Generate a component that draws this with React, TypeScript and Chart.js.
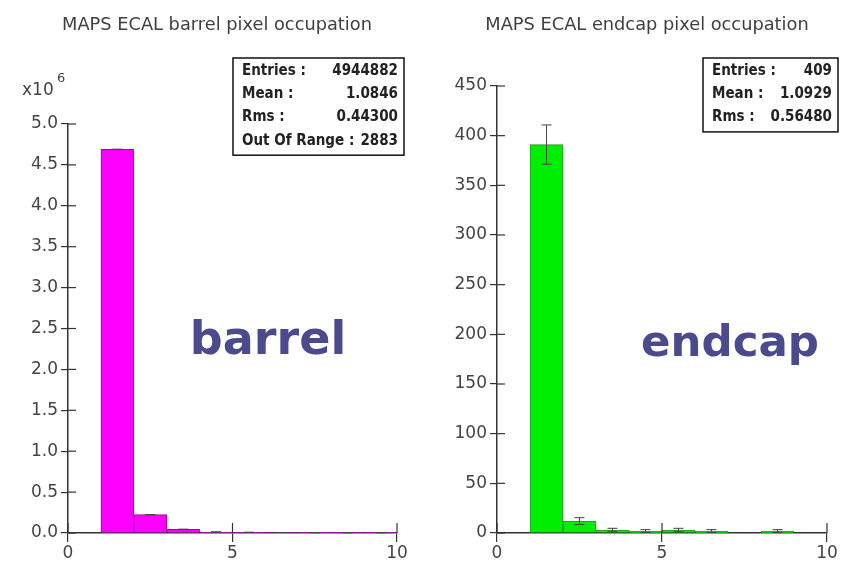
import React, { useEffect, useRef } from 'react';
import { Chart, registerables } from 'chart.js';
Chart.register(...registerables);

// ---- data ----
const barrelBinCenters = [1.5, 2.5, 3.5, 4.5, 5.5, 6.5, 7.5, 8.5, 9.5];
const barrelCounts = [4690000, 225000, 45000, 12000, 8000, 6000, 5000, 4000, 4000];
const barrelTitle = 'MAPS ECAL barrel pixel occupation';
const barrelLabel = 'barrel';
const barrelStatLabels = ['Entries :', 'Mean :', 'Rms :', 'Out Of Range :'];
const barrelStatValues = ['4944882', '1.0846', '0.44300', '2883'];
const barrelYMax = 5000000;
const barrelYStep = 500000;

const endcapBinCenters = [1.5, 2.5, 3.5, 4.5, 5.5, 6.5, 7.5, 8.5, 9.5];
const endcapCounts = [391, 12, 3, 2, 3, 2, 0, 2, 0];
const endcapTitle = 'MAPS ECAL endcap pixel occupation';
const endcapLabel = 'endcap';
const endcapStatLabels = ['Entries :', 'Mean :', 'Rms :'];
const endcapStatValues = ['409', '1.0929', '0.56480'];
const endcapYMax = 450;
const endcapYStep = 50;

const xMin = 0;
const xMax = 10;
const xStep = 5;

type PanelProps = {
  centers: number[];
  counts: number[];
  title: string;
  titleX: number;
  label: string;
  statLabels: string[];
  statValues: string[];
  yMax: number;
  yStep: number;
  yFormat: (v: number) => string;
  fill: string;
  border: string;
  yAxisWidth: number;
  chartTop: number;
  rightPad: number;
  statBox: { dx: number; top: number; w: number; rowH: number };
  labelPos: { x: number; y: number; size: number };
  exponent: boolean;
  errorBars: boolean;
};

const TEXT = '#444';
const AXIS = '#333';
const W = 424;
const H = 566;
const TITLE_SIZE = 17.8;

function Panel(p: PanelProps) {
  const ref = useRef<HTMLCanvasElement>(null);
  useEffect(() => {
    const canvas = ref.current!;
    const overlay = {
      id: 'overlay',
      afterDatasetsDraw(chart: any) {
        const ctx = chart.ctx;
        const xs = chart.scales.x;
        const ys = chart.scales.y;
        if (p.errorBars) {
          ctx.save();
          ctx.strokeStyle = '#444';
          ctx.lineWidth = 1;
          p.counts.forEach((c, i) => {
            if (c <= 0) return;
            const e = Math.sqrt(c);
            const x = xs.getPixelForValue(p.centers[i]);
            const y1 = ys.getPixelForValue(c - e);
            const y2 = ys.getPixelForValue(c + e);
            ctx.beginPath();
            ctx.moveTo(x, y1);
            ctx.lineTo(x, y2);
            ctx.moveTo(x - 5, y1);
            ctx.lineTo(x + 5, y1);
            ctx.moveTo(x - 5, y2);
            ctx.lineTo(x + 5, y2);
            ctx.stroke();
          });
          ctx.restore();
        }
      },
      afterDraw(chart: any) {
        const ctx = chart.ctx;
        const area = chart.chartArea;
        const xs = chart.scales.x;
        const ys = chart.scales.y;
        ctx.save();
        // title
        ctx.fillStyle = '#404040';
        ctx.font = `${TITLE_SIZE}px "DejaVu Sans", sans-serif`;
        ctx.textAlign = 'center';
        ctx.textBaseline = 'middle';
        ctx.fillText(p.title, p.titleX, 25);
        // inner tick marks
        ctx.strokeStyle = AXIS;
        ctx.lineWidth = 1.2;
        ys.ticks.forEach((t: any) => {
          const y = ys.getPixelForValue(t.value);
          ctx.beginPath();
          ctx.moveTo(area.left, y);
          ctx.lineTo(area.left + 8, y);
          ctx.stroke();
        });
        xs.ticks.forEach((t: any) => {
          const x = xs.getPixelForValue(t.value);
          ctx.beginPath();
          ctx.moveTo(x, area.bottom);
          ctx.lineTo(x, area.bottom - 10);
          ctx.stroke();
        });
        // exponent
        if (p.exponent) {
          ctx.fillStyle = TEXT;
          ctx.font = '17px "DejaVu Sans", sans-serif';
          ctx.textAlign = 'left';
          ctx.textBaseline = 'middle';
          ctx.fillText('x10', 22, 91);
          ctx.font = '13px "DejaVu Sans", sans-serif';
          ctx.fillText('6', 57, 79);
        }
        // stats box
        const sb = p.statBox;
        const bx = area.right + sb.dx - sb.w;
        const bh = sb.rowH * p.statLabels.length + 4;
        ctx.fillStyle = '#fff';
        ctx.fillRect(bx, sb.top, sb.w, bh);
        ctx.strokeStyle = '#111';
        ctx.lineWidth = 1.5;
        ctx.strokeRect(bx, sb.top, sb.w, bh);
        ctx.fillStyle = '#222';
        ctx.font = 'bold 15px "DejaVu Sans Condensed", "Liberation Sans Narrow", sans-serif';
        ctx.textBaseline = 'middle';
        p.statLabels.forEach((l, i) => {
          const y = sb.top + 13 + i * sb.rowH;
          ctx.textAlign = 'left';
          ctx.fillText(l, bx + 9, y);
          ctx.textAlign = 'right';
          ctx.fillText(p.statValues[i], bx + sb.w - 6, y);
        });
        // big label
        ctx.fillStyle = '#4a4a8c';
        ctx.font = `bold ${p.labelPos.size}px "DejaVu Sans", sans-serif`;
        ctx.textAlign = 'center';
        ctx.textBaseline = 'middle';
        ctx.fillText(p.label, p.labelPos.x, p.labelPos.y);
        ctx.restore();
      },
    };

    const chart = new Chart(canvas, {
      type: 'bar',
      data: {
        datasets: [
          {
            data: p.centers.map((c, i) => ({ x: c, y: p.counts[i] })),
            backgroundColor: p.fill,
            borderColor: p.border,
            borderWidth: 1,
            barPercentage: 1,
            categoryPercentage: 1,
            grouped: false,
          } as any,
        ],
      },
      options: {
        responsive: false,
        animation: false,
        devicePixelRatio: 1,
        layout: { padding: { left: 0, top: p.chartTop, right: p.rightPad, bottom: 0 } },
        plugins: {
          legend: { display: false },
          tooltip: { enabled: false },
          title: { display: false },
        },
        scales: {
          x: {
            type: 'linear',
            min: xMin,
            max: xMax,
            offset: false,
            ticks: {
              stepSize: xStep,
              color: TEXT,
              font: { family: '"DejaVu Sans", sans-serif', size: 17 },
              padding: 1,
              maxRotation: 0,
            },
            grid: { display: true, offset: false, drawOnChartArea: false, drawTicks: true, tickLength: 9, color: AXIS, lineWidth: 1.2 },
            border: { display: true, color: AXIS, width: 1.5 },
            afterFit: (s: any) => {
              s.height = 33;
            },
          },
          y: {
            type: 'linear',
            min: 0,
            max: p.yMax,
            ticks: {
              stepSize: p.yStep,
              color: TEXT,
              font: { family: '"DejaVu Sans", sans-serif', size: 17 },
              padding: 3,
              callback: (v: any) => p.yFormat(Number(v)),
            },
            grid: { display: true, offset: false, drawOnChartArea: false, drawTicks: true, tickLength: 7, color: AXIS, lineWidth: 1.2 },
            border: { display: true, color: AXIS, width: 1.5 },
            afterFit: (s: any) => {
              s.width = p.yAxisWidth;
            },
          },
        },
      },
      plugins: [overlay],
    } as any);
    return () => chart.destroy();
  }, []);
  return <canvas ref={ref} width={W} height={H} style={{ width: W, height: H, display: 'block' }} />;
}

export default function App() {
  return (
    <div style={{ position: 'absolute', left: 0, top: 0, width: 848, height: 566, display: 'flex', background: '#fff' }}>
      <Panel
        centers={barrelBinCenters}
        counts={barrelCounts}
        title={barrelTitle}
        titleX={217}
        label={barrelLabel}
        statLabels={barrelStatLabels}
        statValues={barrelStatValues}
        yMax={barrelYMax}
        yStep={barrelYStep}
        yFormat={(v) => (v / 1e6).toFixed(1)}
        fill="#ff00ff"
        border="#a000a0"
        yAxisWidth={68}
        chartTop={124}
        rightPad={27}
        statBox={{ dx: 7, top: 58, w: 171, rowH: 23.3 }}
        labelPos={{ x: 268, y: 342, size: 46 }}
        exponent={true}
        errorBars={true}
      />
      <Panel
        centers={endcapBinCenters}
        counts={endcapCounts}
        title={endcapTitle}
        titleX={223}
        label={endcapLabel}
        statLabels={endcapStatLabels}
        statValues={endcapStatValues}
        yMax={endcapYMax}
        yStep={endcapYStep}
        yFormat={(v) => String(v)}
        fill="#00ee00"
        border="#2f8f2f"
        yAxisWidth={73}
        chartTop={86}
        rightPad={21}
        statBox={{ dx: 11, top: 58, w: 135, rowH: 23.3 }}
        labelPos={{ x: 306, y: 345, size: 43.5 }}
        exponent={false}
        errorBars={true}
      />
    </div>
  );
}
